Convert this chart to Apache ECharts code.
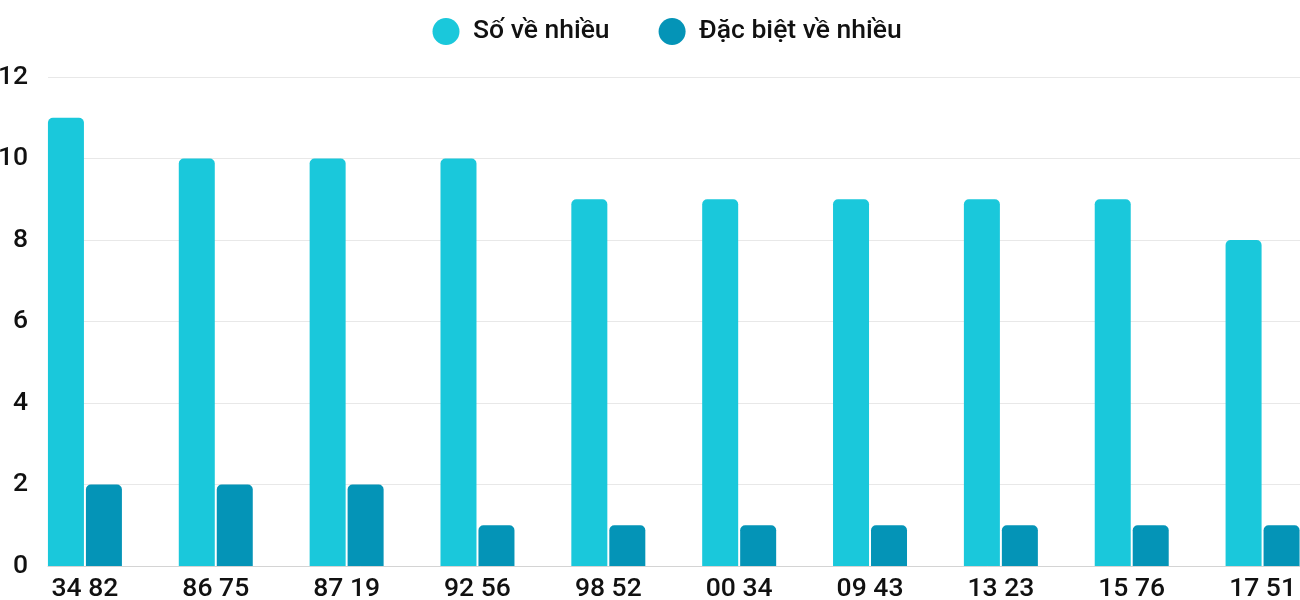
<!DOCTYPE html>
<html>
<head>
<meta charset="utf-8">
<script src="https://cdn.jsdelivr.net/npm/echarts@6/dist/echarts.min.js"></script>
<style>
  html, body { margin: 0; padding: 0; background: #fff; }
  #chart { width: 1300px; height: 600px; }
</style>
</head>
<body>
<div id="chart"></div>
<script>
  // cặp số
  const categories = ["34 82", "86 75", "87 19", "92 56", "98 52", "00 34", "09 43", "13 23", "15 76", "17 51"];
  const soVeNhieu = [11, 10, 10, 10, 9, 9, 9, 9, 9, 8];
  const dacBietVeNhieu = [2, 2, 2, 1, 1, 1, 1, 1, 1, 1];
  const seriesNames = ["Số về nhiều", "Đặc biệt về nhiều"];

  const chart = echarts.init(document.getElementById("chart"));

  const font = "Roboto";

  const option = {
    animation: false,
    legend: {
      data: seriesNames,
      left: 427.5,
      top: 13,
      icon: "circle",
      itemWidth: 44,
      itemHeight: 27,
      itemGap: 49,
      textStyle: { fontFamily: font, fontSize: 26.5, fontWeight: 500, color: "#111" },
    },
    grid: [
      // lưới cho cột (rộng hơn khung để tâm nhóm cột khớp)
      { left: 19.5, width: 1308.5, top: 77, bottom: 34, outerBoundsMode: "none" },
      // lưới cho trục y và đường kẻ
      { left: 48, right: 0, top: 77, bottom: 34, outerBoundsMode: "none" },
    ],
    xAxis: [
      {
        type: "category",
        gridIndex: 0,
        data: categories,
        axisLine: { show: false },
        axisTick: { show: false },
        axisLabel: { fontFamily: font, fontSize: 26.5, fontWeight: 500, color: "#111", margin: 10 },
      },
      {
        type: "value",
        gridIndex: 1,
        min: 0,
        max: 1,
        axisLine: { show: true, lineStyle: { color: "#d4d4d4", width: 1 } },
        axisTick: { show: false },
        axisLabel: { show: false },
        splitLine: { show: false },
      },
    ],
    yAxis: [
      { type: "value", gridIndex: 0, min: 0, max: 12, show: false },
      {
        type: "value",
        gridIndex: 1,
        min: 0,
        max: 12,
        interval: 2,
        axisLine: { show: false },
        axisTick: { show: false },
        axisLabel: { fontFamily: font, fontSize: 26.5, fontWeight: 500, color: "#111", margin: 20 },
        splitLine: { lineStyle: { color: "#e8e8e8", width: 1 } },
      },
    ],
    series: [
      {
        name: seriesNames[0],
        type: "bar",
        xAxisIndex: 0,
        yAxisIndex: 0,
        data: soVeNhieu,
        barWidth: 36,
        barGap: "5.5%",
        itemStyle: { color: "#1ac8db", borderRadius: [5, 5, 0, 0] },
      },
      {
        name: seriesNames[1],
        type: "bar",
        xAxisIndex: 0,
        yAxisIndex: 0,
        data: dacBietVeNhieu,
        barWidth: 36,
        barGap: "5.5%",
        itemStyle: { color: "#0494b7", borderRadius: [5, 5, 0, 0] },
      },
    ],
  };

  chart.setOption(option);

  window.addEventListener("resize", () => {
    chart.resize();
  });
</script>
</body>
</html>
